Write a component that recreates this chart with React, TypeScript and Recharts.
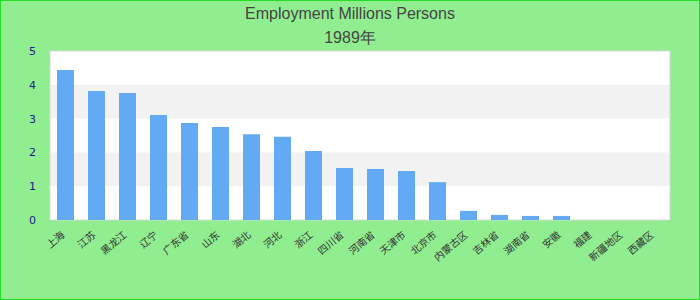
import { BarChart, Bar, XAxis, YAxis, CartesianGrid, ReferenceArea } from 'recharts'

const regions = [
  '上海', '江苏', '黑龙江', '辽宁', '广东省', '山东', '湖北', '河北', '浙江', '四川省',
  '河南省', '天津市', '北京市', '内蒙古区', '吉林省', '湖南省', '安徽', '福建', '新疆地区', '西藏区',
]
const employment = [
  4.44, 3.82, 3.76, 3.11, 2.87, 2.75, 2.54, 2.46, 2.04, 1.54,
  1.51, 1.45, 1.12, 0.27, 0.15, 0.12, 0.12, 0, 0, 0,
]
const yTicks = [0, 1, 2, 3, 4, 5]
const bands = [
  [1, 2],
  [3, 4],
]

const data = regions.map((name, i) => ({ name, value: employment[i] }))

function AngledTick(props: any) {
  const { x, y, payload } = props
  return (
    <g transform={`translate(${x},${y + 8})`}>
      <text
        textAnchor="end"
        transform="rotate(-40)"
        fontSize={10}
        fill="#333"
        fontFamily="'Noto Sans CJK SC', sans-serif"
      >
        {payload.value}
      </text>
    </g>
  )
}

export default function App() {
  return (
    <div
      style={{
        position: 'absolute',
        top: 0,
        left: 0,
        width: 700,
        height: 300,
        boxSizing: 'border-box',
        border: '1px solid #22dd22',
        background: '#90ee90',
        fontFamily: "'Liberation Sans', Arial, sans-serif",
      }}
    >
      <div
        style={{
          position: 'absolute',
          top: 3,
          left: 0,
          width: 698,
          textAlign: 'center',
          fontSize: 16,
          color: '#444',
          lineHeight: '20px',
        }}
      >
        Employment Millions Persons
      </div>
      <div
        style={{
          position: 'absolute',
          top: 27,
          left: 0,
          width: 698,
          textAlign: 'center',
          fontSize: 16,
          color: '#444',
          lineHeight: '20px',
        }}
      >
        1989年
      </div>
      <BarChart
        width={698}
        height={298}
        data={data}
        margin={{ top: 50, right: 29, left: 0, bottom: 0 }}
        barSize={17}
      >
        <CartesianGrid horizontal={false} vertical={false} fill="#fff" />
        {bands.map(([a, b]) => (
          <ReferenceArea key={a} y1={a} y2={b} fill="#f2f2f2" fillOpacity={1} stroke="none" />
        ))}
        <ReferenceArea y1={0} y2={5} fill="none" stroke="#d8d8d8" strokeWidth={1} />
        <XAxis
          dataKey="name"
          interval={0}
          height={79}
          axisLine={false}
          tickLine={false}
          tick={<AngledTick />}
        />
        <YAxis
          width={49}
          domain={[0, 5]}
          ticks={yTicks}
          axisLine={false}
          tickLine={false}
          tickMargin={8}
          tick={{ fontSize: 11, fill: '#1a1a8c', fontFamily: "'DejaVu Sans', sans-serif" }}
        />
        <Bar dataKey="value" fill="#63aaf5" isAnimationActive={false} />
      </BarChart>
    </div>
  )
}
